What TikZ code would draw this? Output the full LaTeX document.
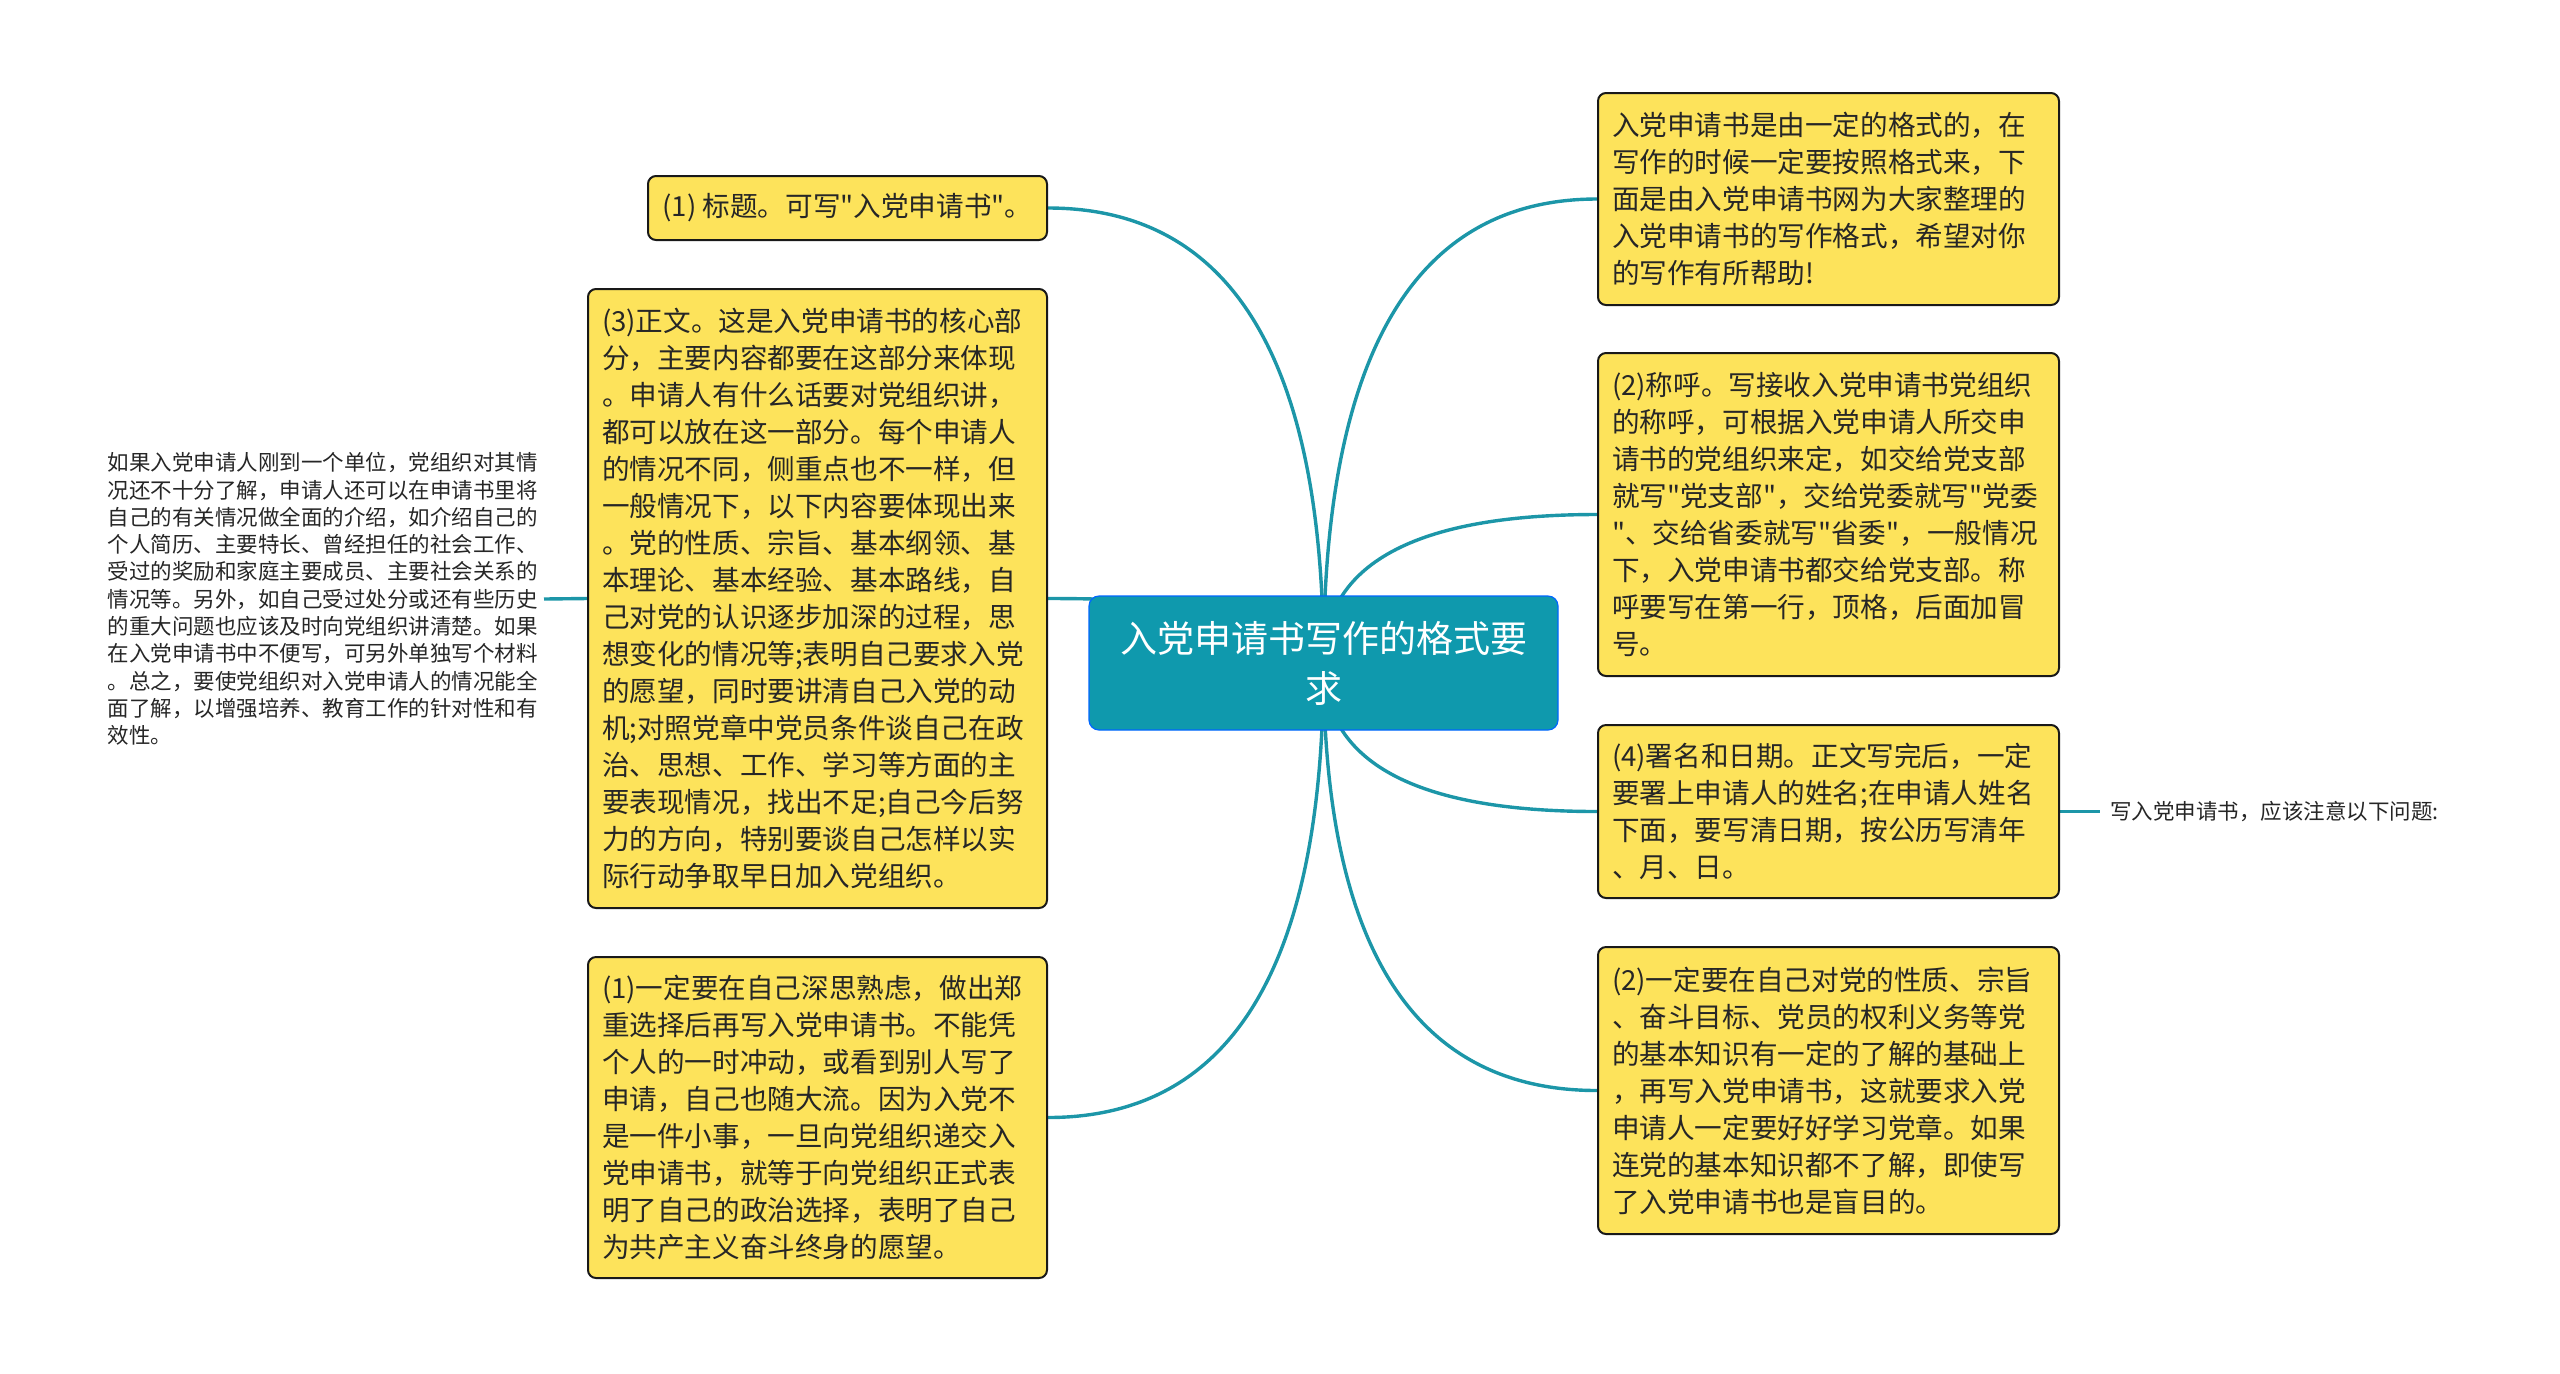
\documentclass[tikz,border=0pt]{standalone}
\usepackage{fontspec}
\newfontfamily\cjk{Noto Sans CJK SC}
\usetikzlibrary{calc,backgrounds}
\definecolor{boxyellow}{HTML}{FDE35B}
\definecolor{teal1}{HTML}{0F99AD}
\definecolor{linkc}{HTML}{1C96A8}
\definecolor{tdark}{HTML}{262626}
\tikzset{
  ybox/.style={draw=black!90, line width=1pt, fill=boxyellow, rounded corners=4pt,
    align=left, inner xsep=7pt, inner ysep=0pt, text=tdark,
    font=\cjk\fontsize{13.8}{18.5}\selectfont},
  rootbox/.style={draw=blue!60!cyan, line width=0.6pt, fill=teal1, rounded corners=5pt,
    align=center, text=white, inner sep=0pt, minimum width=234.5pt, minimum height=67pt,
    font=\cjk\fontsize{18.5}{25}\selectfont},
  plain/.style={align=left, text=tdark, inner xsep=3pt, inner ysep=0pt,
    font=\cjk\fontsize{10.75}{13.65}\selectfont},
  link/.style={draw=linkc, line width=1.7pt}
}
\newcommand\conn[2]{\draw[link] (#1.center) .. controls ($(#1.center)!0.6667!(#1.center |- #2)$) and ($(#2)!0.6667!(#1.center |- #2)$) .. (#2);}
\begin{document}
\begin{tikzpicture}[x=0.5pt,y=-0.5pt]
\useasboundingbox (0,0) rectangle (2560,1373);
\node[rootbox] (C) at (1323.5,663) {入党申请书写作的格式要\\求};
% left side
\node[ybox, inner xsep=3pt, minimum width=199.5pt, minimum height=32pt] (B1) at (847.5,208) {(1)~标题。可写"入党申请书"。};
\node[ybox, text width=215.5pt, minimum height=309.5pt] (B3) at (817.5,598.5) {(3)正文。这是入党申请书的核心部\\分，主要内容都要在这部分来体现\\。申请人有什么话要对党组织讲，\\都可以放在这一部分。每个申请人\\的情况不同，侧重点也不一样，但\\一般情况下，以下内容要体现出来\\。党的性质、宗旨、基本纲领、基\\本理论、基本经验、基本路线，自\\己对党的认识逐步加深的过程，思\\想变化的情况等;表明自己要求入党\\的愿望，同时要讲清自己入党的动\\机;对照党章中党员条件谈自己在政\\治、思想、工作、学习等方面的主\\要表现情况，找出不足;自己今后努\\力的方向，特别要谈自己怎样以实\\际行动争取早日加入党组织。};
\node[ybox, text width=215.5pt, minimum height=160.5pt] (B4) at (817.5,1117.5) {(1)一定要在自己深思熟虑，做出郑\\重选择后再写入党申请书。不能凭\\个人的一时冲动，或看到别人写了\\申请，自己也随大流。因为入党不\\是一件小事，一旦向党组织递交入\\党申请书，就等于向党组织正式表\\明了自己的政治选择，表明了自己\\为共产主义奋斗终身的愿望。};
\node[plain, anchor=east] (L) at (544,599) {如果入党申请人刚到一个单位，党组织对其情\\况还不十分了解，申请人还可以在申请书里将\\自己的有关情况做全面的介绍，如介绍自己的\\个人简历、主要特长、曾经担任的社会工作、\\受过的奖励和家庭主要成员、主要社会关系的\\情况等。另外，如自己受过处分或还有些历史\\的重大问题也应该及时向党组织讲清楚。如果\\在入党申请书中不便写，可另外单独写个材料\\。总之，要使党组织对入党申请人的情况能全\\面了解，以增强培养、教育工作的针对性和有\\效性。};
% right side
\node[ybox, text width=216.5pt, minimum height=106pt] (R1) at (1828.5,199) {入党申请书是由一定的格式的，在\\写作的时候一定要按照格式来，下\\面是由入党申请书网为大家整理的\\入党申请书的写作格式，希望对你\\的写作有所帮助!};
\node[ybox, text width=216.5pt, minimum height=161.5pt] (R2) at (1828.5,514.5) {(2)称呼。写接收入党申请书党组织\\的称呼，可根据入党申请人所交申\\请书的党组织来定，如交给党支部\\就写"党支部"，交给党委就写"党委\\"、交给省委就写"省委"，一般情况\\下，入党申请书都交给党支部。称\\呼要写在第一行，顶格，后面加冒\\号。};
\node[ybox, text width=216.5pt, minimum height=86.5pt] (R3) at (1828.5,811.5) {(4)署名和日期。正文写完后，一定\\要署上申请人的姓名;在申请人姓名\\下面，要写清日期，按公历写清年\\、月、日。};
\node[ybox, text width=216.5pt, minimum height=143.5pt] (R4) at (1828.5,1090.5) {(2)一定要在自己对党的性质、宗旨\\、奋斗目标、党员的权利义务等党\\的基本知识有一定的了解的基础上\\，再写入党申请书，这就要求入党\\申请人一定要好好学习党章。如果\\连党的基本知识都不了解，即使写\\了入党申请书也是盲目的。};
\node[plain, anchor=west, inner xsep=5pt] (RT) at (2100,811.5) {写入党申请书，应该注意以下问题:};
\begin{pgfonlayer}{background}
\conn{C}{B1.east}
\conn{C}{B3.east}
\conn{C}{B4.east}
\conn{C}{R1.west}
\conn{C}{R2.west}
\conn{C}{R3.west}
\conn{C}{R4.west}
\draw[link] (B3.west) -- (L.east);
\draw[link] (R3.east) -- (RT.west);
\end{pgfonlayer}
\end{tikzpicture}
\end{document}
